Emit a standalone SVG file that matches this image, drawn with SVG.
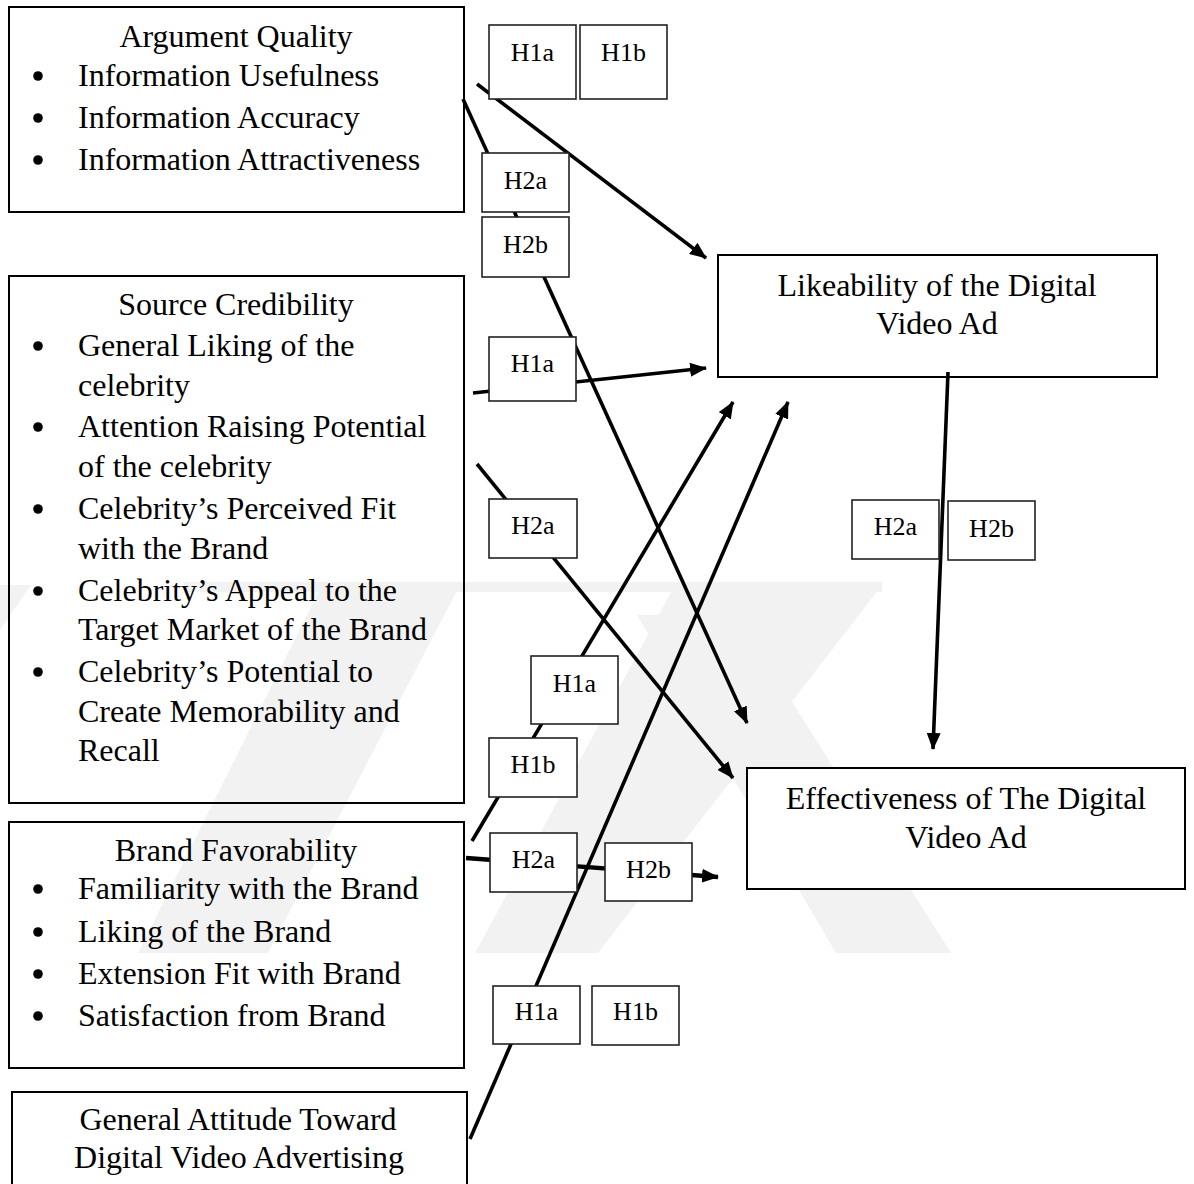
<svg xmlns="http://www.w3.org/2000/svg" width="1194" height="1184" viewBox="0 0 1194 1184">
  <style>
    .t { font-family: "Liberation Serif", "Times New Roman", serif; font-size: 32px; fill: #000; }
    .c { text-anchor: middle; }
    .lbl { font-family: "Liberation Serif", "Times New Roman", serif; font-size: 26px; fill: #000; text-anchor: middle; }
    .box { fill: none; stroke: #000; stroke-width: 2; }
    .wbox { fill: #fff; stroke: #000; stroke-width: 2; }
    .hbox { fill: #fff; stroke: #222; stroke-width: 1.6; }
    .con { stroke: #000; stroke-width: 3.6; fill: none; marker-end: url(#arr); }
    .wm { fill: #f2f2f2; }
  </style>
  <defs>
    <marker id="arr" markerUnits="userSpaceOnUse" markerWidth="18" markerHeight="14" refX="16" refY="7" orient="auto">
      <path d="M0,0 L17,7 L0,14 Z" fill="#000"/>
    </marker>
  </defs>
  <rect width="1194" height="1184" fill="#fff"/>

  <!-- faint background watermark -->
  <g id="watermark">
    <polygon class="wm" points="0,585 31,585 0,630"/>
    <polygon class="wm" points="184,582 882,582 882,592 184,592"/>
    <polygon class="wm" points="322,585 460,585 268,953 138,953"/>
    <polygon class="wm" points="675,585 882,585 598,953 475,953"/>
    <polygon class="wm" points="637,615 737,615 951,953 836,953"/>
  </g>

  <g id="connectors">
    <line class="con" x1="477" y1="84" x2="706" y2="258"/>
    <line class="con" x1="463" y1="99" x2="747" y2="723"/>
    <line class="con" x1="473" y1="393" x2="706" y2="368"/>
    <line class="con" x1="477" y1="464" x2="733" y2="778"/>
    <line class="con" x1="472" y1="841" x2="733" y2="402"/>
    <line class="con" x1="470" y1="1139" x2="788" y2="402"/>
    <line class="con" x1="466" y1="858" x2="718" y2="877" style="stroke-width:4.4"/>
    <line class="con" x1="948" y1="372" x2="933" y2="749"/>
  </g>

  <g id="argument-quality">
    <rect class="box" x="9" y="7" width="455" height="205"/>
    <text class="t c" x="236" y="47">Argument Quality</text>
    <circle cx="38" cy="76" r="4.8"/>
    <text class="t" x="78" y="86">Information Usefulness</text>
    <circle cx="38" cy="118" r="4.8"/>
    <text class="t" x="78" y="128">Information Accuracy</text>
    <circle cx="38" cy="160" r="4.8"/>
    <text class="t" x="78" y="170">Information Attractiveness</text>
  </g>

  <g id="source-credibility">
    <rect class="box" x="9" y="276" width="455" height="527"/>
    <text class="t c" x="236" y="315">Source Credibility</text>
    <circle cx="38" cy="346" r="4.8"/>
    <text class="t" x="78" y="356">General Liking of the</text>
    <text class="t" x="78" y="396">celebrity</text>
    <circle cx="38" cy="427" r="4.8"/>
    <text class="t" x="78" y="437">Attention Raising Potential</text>
    <text class="t" x="78" y="477">of the celebrity</text>
    <circle cx="38" cy="509" r="4.8"/>
    <text class="t" x="78" y="519">Celebrity’s Perceived Fit</text>
    <text class="t" x="78" y="559">with the Brand</text>
    <circle cx="38" cy="591" r="4.8"/>
    <text class="t" x="78" y="601">Celebrity’s Appeal to the</text>
    <text class="t" x="78" y="640">Target Market of the Brand</text>
    <circle cx="38" cy="672" r="4.8"/>
    <text class="t" x="78" y="682">Celebrity’s Potential to</text>
    <text class="t" x="78" y="722">Create Memorability and</text>
    <text class="t" x="78" y="761">Recall</text>
  </g>

  <g id="brand-favorability">
    <rect class="box" x="9" y="822" width="455" height="246"/>
    <text class="t c" x="236" y="861">Brand Favorability</text>
    <circle cx="38" cy="889" r="4.8"/>
    <text class="t" x="78" y="899">Familiarity with the Brand</text>
    <circle cx="38" cy="932" r="4.8"/>
    <text class="t" x="78" y="942">Liking of the Brand</text>
    <circle cx="38" cy="974" r="4.8"/>
    <text class="t" x="78" y="984">Extension Fit with Brand</text>
    <circle cx="38" cy="1016" r="4.8"/>
    <text class="t" x="78" y="1026">Satisfaction from Brand</text>
  </g>

  <g id="general-attitude">
    <rect class="box" x="12" y="1092" width="455" height="120"/>
    <text class="t c" x="238" y="1130">General Attitude Toward</text>
    <text class="t c" x="239" y="1168">Digital Video Advertising</text>
  </g>

  <g id="likeability">
    <rect class="box" x="718" y="255" width="439" height="122"/>
    <text class="t c" x="937" y="296">Likeability of the Digital</text>
    <text class="t c" x="937" y="334">Video Ad</text>
  </g>

  <g id="effectiveness">
    <rect class="wbox" x="747" y="768" width="438" height="121"/>
    <text class="t c" x="966" y="809">Effectiveness of The Digital</text>
    <text class="t c" x="966" y="848">Video Ad</text>
  </g>

  <g id="labels">
    <g id="lbl-h1a-1"><rect class="hbox" x="489" y="25" width="87" height="74"/><text class="lbl" x="532.5" y="61">H1a</text></g>
    <g id="lbl-h1b-1"><rect class="hbox" x="580" y="25" width="87" height="74"/><text class="lbl" x="623.5" y="61">H1b</text></g>
    <g id="lbl-h2a-1"><rect class="hbox" x="482" y="153" width="87" height="59"/><text class="lbl" x="525.5" y="189">H2a</text></g>
    <g id="lbl-h2b-1"><rect class="hbox" x="482" y="217" width="87" height="60"/><text class="lbl" x="525.5" y="253">H2b</text></g>
    <g id="lbl-h1a-2"><rect class="hbox" x="489" y="337" width="87" height="64"/><text class="lbl" x="532.5" y="372">H1a</text></g>
    <g id="lbl-h2a-2"><rect class="hbox" x="489" y="499" width="88" height="59"/><text class="lbl" x="533" y="534">H2a</text></g>
    <g id="lbl-h2a-3"><rect class="hbox" x="852" y="500" width="87" height="59"/><text class="lbl" x="895.5" y="535">H2a</text></g>
    <g id="lbl-h2b-3"><rect class="hbox" x="948" y="501" width="87" height="59"/><text class="lbl" x="991.5" y="537">H2b</text></g>
    <g id="lbl-h1a-3"><rect class="hbox" x="531" y="656" width="87" height="68"/><text class="lbl" x="574.5" y="692">H1a</text></g>
    <g id="lbl-h1b-3"><rect class="hbox" x="489" y="738" width="88" height="59"/><text class="lbl" x="533" y="773">H1b</text></g>
    <g id="lbl-h2a-4"><rect class="hbox" x="490" y="833" width="87" height="59"/><text class="lbl" x="533.5" y="868">H2a</text></g>
    <g id="lbl-h2b-4"><rect class="hbox" x="605" y="843" width="87" height="58"/><text class="lbl" x="648.5" y="878">H2b</text></g>
    <g id="lbl-h1a-4"><rect class="hbox" x="493" y="986" width="87" height="58"/><text class="lbl" x="536.5" y="1020">H1a</text></g>
    <g id="lbl-h1b-4"><rect class="hbox" x="592" y="986" width="87" height="59"/><text class="lbl" x="635.5" y="1020">H1b</text></g>
  </g>
</svg>
